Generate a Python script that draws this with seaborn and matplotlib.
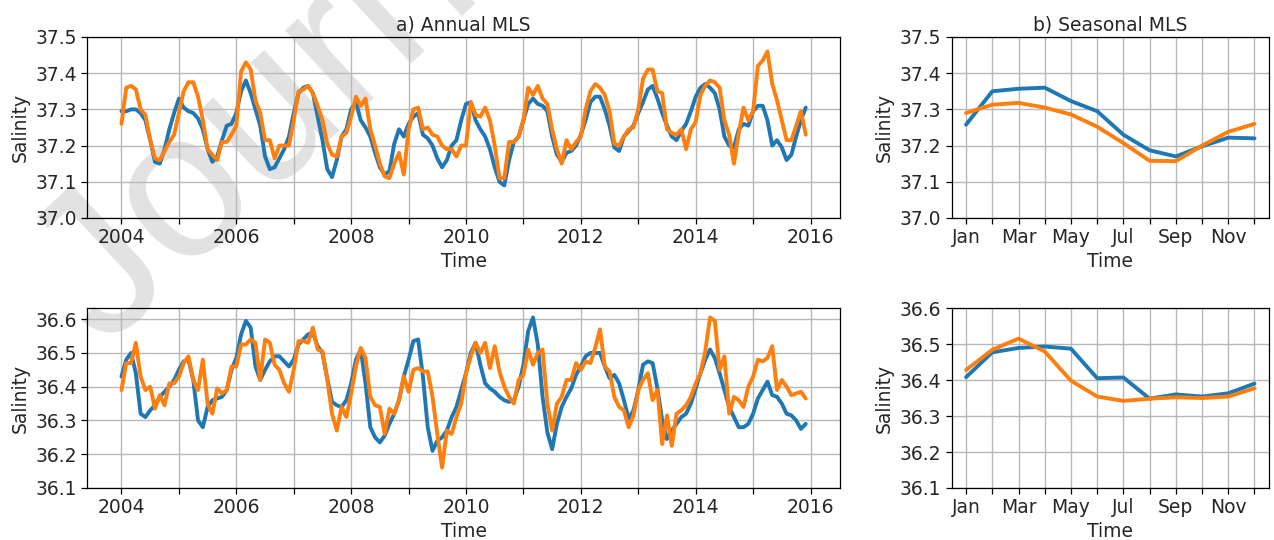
# salinidade da camada de mistura (MLS): série anual e ciclo sazonal

import numpy as np
import matplotlib
matplotlib.use("Agg")
import matplotlib.pyplot as plt
import seaborn as sns

# eixo de tempo: meses de jan/2004 a dez/2015
anos = [2004, 2016]
n_meses = 144

# painel a) superior - série 1 (azul) e série 2 (laranja)
mls_a1_azul = [
    37.295, 37.295, 37.30, 37.30, 37.29, 37.27, 37.215, 37.155, 37.15, 37.19, 37.245, 37.29,
    37.33, 37.305, 37.295, 37.29, 37.275, 37.245, 37.19, 37.155, 37.17, 37.215, 37.255, 37.26,
    37.29, 37.35, 37.38, 37.345, 37.30, 37.255, 37.17, 37.135, 37.14, 37.165, 37.19, 37.225,
    37.29, 37.345, 37.36, 37.365, 37.345, 37.28, 37.215, 37.135, 37.113, 37.16, 37.225, 37.245,
    37.30, 37.32, 37.27, 37.25, 37.225, 37.18, 37.14, 37.12, 37.13, 37.205, 37.245, 37.225,
    37.26, 37.28, 37.29, 37.23, 37.22, 37.20, 37.165, 37.14, 37.16, 37.20, 37.215, 37.27,
    37.315, 37.32, 37.27, 37.245, 37.225, 37.19, 37.14, 37.10, 37.09, 37.16, 37.21, 37.225,
    37.27, 37.315, 37.33, 37.315, 37.31, 37.295, 37.225, 37.175, 37.155, 37.18, 37.185, 37.20,
    37.23, 37.27, 37.32, 37.335, 37.335, 37.30, 37.255, 37.195, 37.185, 37.225, 37.24, 37.255,
    37.29, 37.32, 37.355, 37.365, 37.33, 37.29, 37.255, 37.225, 37.215, 37.24, 37.26, 37.295,
    37.335, 37.36, 37.37, 37.36, 37.345, 37.30, 37.225, 37.20, 37.195, 37.245, 37.26, 37.255,
    37.295, 37.31, 37.31, 37.27, 37.20, 37.215, 37.195, 37.16, 37.175, 37.225, 37.27, 37.305,
]
mls_a1_laranja = [
    37.26, 37.36, 37.365, 37.355, 37.30, 37.285, 37.215, 37.165, 37.16, 37.185, 37.21, 37.23,
    37.29, 37.35, 37.375, 37.375, 37.335, 37.27, 37.19, 37.175, 37.16, 37.21, 37.21, 37.23,
    37.255, 37.405, 37.43, 37.41, 37.325, 37.29, 37.215, 37.215, 37.165, 37.20, 37.20, 37.20,
    37.27, 37.35, 37.355, 37.365, 37.345, 37.31, 37.27, 37.205, 37.175, 37.17, 37.225, 37.235,
    37.28, 37.335, 37.31, 37.33, 37.245, 37.20, 37.15, 37.115, 37.11, 37.15, 37.18, 37.12,
    37.245, 37.30, 37.305, 37.245, 37.25, 37.23, 37.225, 37.20, 37.19, 37.19, 37.17, 37.20,
    37.20, 37.32, 37.285, 37.28, 37.305, 37.27, 37.20, 37.11, 37.11, 37.21, 37.21, 37.225,
    37.27, 37.36, 37.34, 37.365, 37.33, 37.315, 37.245, 37.19, 37.15, 37.215, 37.19, 37.21,
    37.225, 37.30, 37.35, 37.37, 37.36, 37.34, 37.295, 37.205, 37.20, 37.225, 37.245, 37.25,
    37.30, 37.385, 37.41, 37.41, 37.35, 37.345, 37.245, 37.235, 37.23, 37.245, 37.19, 37.245,
    37.265, 37.34, 37.365, 37.38, 37.375, 37.36, 37.27, 37.23, 37.15, 37.235, 37.305, 37.27,
    37.295, 37.42, 37.435, 37.46, 37.37, 37.325, 37.27, 37.215, 37.215, 37.255, 37.295, 37.23,
]

# painel inferior - série 1 (azul) e série 2 (laranja)
mls_a2_azul = [
    36.43, 36.48, 36.50, 36.44, 36.32, 36.31, 36.33, 36.345, 36.37, 36.385, 36.40, 36.42,
    36.45, 36.475, 36.48, 36.42, 36.30, 36.28, 36.34, 36.36, 36.365, 36.37, 36.39, 36.45,
    36.485, 36.555, 36.595, 36.575, 36.46, 36.42, 36.45, 36.475, 36.49, 36.49, 36.475, 36.46,
    36.48, 36.525, 36.54, 36.555, 36.56, 36.52, 36.50, 36.425, 36.355, 36.345, 36.34, 36.36,
    36.41, 36.48, 36.51, 36.41, 36.28, 36.25, 36.235, 36.255, 36.29, 36.32, 36.36, 36.43,
    36.48, 36.535, 36.54, 36.43, 36.28, 36.21, 36.24, 36.25, 36.27, 36.31, 36.34, 36.39,
    36.44, 36.50, 36.53, 36.465, 36.41, 36.395, 36.385, 36.37, 36.36, 36.355, 36.36, 36.40,
    36.465, 36.565, 36.605, 36.525, 36.37, 36.265, 36.215, 36.29, 36.34, 36.37, 36.395, 36.435,
    36.46, 36.49, 36.50, 36.50, 36.50, 36.46, 36.425, 36.435, 36.41, 36.36, 36.305, 36.33,
    36.39, 36.465, 36.475, 36.47, 36.395, 36.30, 36.245, 36.27, 36.29, 36.31, 36.32, 36.35,
    36.395, 36.44, 36.48, 36.51, 36.485, 36.44, 36.39, 36.34, 36.31, 36.28, 36.28, 36.29,
    36.32, 36.365, 36.39, 36.415, 36.375, 36.37, 36.35, 36.32, 36.315, 36.30, 36.275, 36.29,
]
mls_a2_laranja = [
    36.39, 36.47, 36.47, 36.53, 36.43, 36.39, 36.40, 36.335, 36.375, 36.345, 36.41, 36.41,
    36.43, 36.47, 36.49, 36.42, 36.39, 36.48, 36.35, 36.32, 36.395, 36.38, 36.39, 36.46,
    36.46, 36.525, 36.525, 36.54, 36.53, 36.42, 36.54, 36.53, 36.465, 36.45, 36.41, 36.385,
    36.45, 36.535, 36.535, 36.53, 36.575, 36.51, 36.505, 36.42, 36.32, 36.27, 36.34, 36.31,
    36.38, 36.46, 36.515, 36.485, 36.37, 36.345, 36.34, 36.26, 36.335, 36.32, 36.36, 36.43,
    36.385, 36.45, 36.455, 36.445, 36.445, 36.37, 36.26, 36.16, 36.27, 36.26, 36.31, 36.35,
    36.44, 36.49, 36.53, 36.50, 36.53, 36.455, 36.52, 36.445, 36.40, 36.37, 36.35, 36.42,
    36.435, 36.51, 36.465, 36.50, 36.51, 36.35, 36.27, 36.35, 36.37, 36.42, 36.42, 36.47,
    36.45, 36.475, 36.47, 36.515, 36.57, 36.46, 36.445, 36.37, 36.34, 36.33, 36.28, 36.315,
    36.39, 36.42, 36.44, 36.36, 36.39, 36.23, 36.315, 36.225, 36.32, 36.33, 36.345, 36.37,
    36.41, 36.44, 36.505, 36.605, 36.595, 36.45, 36.49, 36.32, 36.37, 36.36, 36.34, 36.40,
    36.43, 36.48, 36.475, 36.485, 36.52, 36.39, 36.42, 36.40, 36.375, 36.38, 36.385, 36.365,
]

# painel b) ciclo sazonal
meses = ["Jan", "Feb", "Mar", "Apr", "May", "Jun", "Jul", "Aug", "Sep", "Oct", "Nov", "Dec"]
saz1_azul = [37.258, 37.35, 37.357, 37.36, 37.323, 37.295, 37.23, 37.187, 37.17, 37.198, 37.222, 37.22]
saz1_laranja = [37.29, 37.313, 37.318, 37.305, 37.286, 37.252, 37.207, 37.158, 37.157, 37.20, 37.238, 37.26]
saz2_azul = [36.408, 36.477, 36.489, 36.493, 36.487, 36.405, 36.407, 36.348, 36.36, 36.354, 36.363, 36.39]
saz2_laranja = [36.428, 36.484, 36.515, 36.479, 36.398, 36.354, 36.342, 36.348, 36.352, 36.35, 36.354, 36.377]

azul = "#1f77b4"
laranja = "#ff7f0e"

sns.set_theme(style="ticks", rc={
    "axes.grid": True, "grid.color": "#b8b8b8", "grid.linewidth": 1.0,
    "axes.edgecolor": "black", "axes.linewidth": 0.9,
    "axes.facecolor": "none",
    "xtick.color": "black", "ytick.color": "black",
    "xtick.labelcolor": "#262626", "ytick.labelcolor": "#262626",
})
plt.rcParams["font.family"] = ["DejaVu Sans"]

fig = plt.figure(figsize=(12.74, 5.4), dpi=100)

# marca d'água do "Journal Pre-proof" (atrás dos eixos)
fig.text(0.0824, 0.352, "Journal Pre-proof", fontsize=150, rotation=43,
         rotation_mode="anchor", ha="left", va="baseline",
         family="Liberation Sans", color="#e2e2e2", zorder=-5)

ax1 = fig.add_axes([0.0685, 0.5963, 0.5908, 0.3352])
ax2 = fig.add_axes([0.0685, 0.0963, 0.5908, 0.3333])
ax3 = fig.add_axes([0.747, 0.5963, 0.249, 0.3352])
ax4 = fig.add_axes([0.747, 0.0963, 0.249, 0.3333])

tempo = anos[0] + np.arange(n_meses) / 12
lw = 2.8

sns.lineplot(x=tempo, y=mls_a1_azul, color=azul, lw=lw, ax=ax1)
sns.lineplot(x=tempo, y=mls_a1_laranja, color=laranja, lw=lw, ax=ax1)
sns.lineplot(x=tempo, y=mls_a2_azul, color=azul, lw=lw, ax=ax2)
sns.lineplot(x=tempo, y=mls_a2_laranja, color=laranja, lw=lw, ax=ax2)

x_mes = np.arange(1, 13)
sns.lineplot(x=x_mes, y=saz1_azul, color=azul, lw=lw, ax=ax3)
sns.lineplot(x=x_mes, y=saz1_laranja, color=laranja, lw=lw, ax=ax3)
sns.lineplot(x=x_mes, y=saz2_azul, color=azul, lw=lw, ax=ax4)
sns.lineplot(x=x_mes, y=saz2_laranja, color=laranja, lw=lw, ax=ax4)

fs = 13.5
anos_ticks = np.arange(anos[0], anos[1] + 1)
for ax in (ax1, ax2):
    ax.set_xticks(anos_ticks)
    ax.set_xticklabels([str(a) if a % 2 == 0 else "" for a in anos_ticks])
for ax in (ax3, ax4):
    ax.set_xticks(x_mes)
    ax.set_xticklabels([m if i % 2 == 0 else "" for i, m in enumerate(meses)])

ax1.set_ylim(37.0, 37.5)
ax3.set_ylim(37.0, 37.5)
ax2.set_ylim(36.1, 36.633)
ax4.set_ylim(36.1, 36.6)
for ax in (ax1, ax3):
    ax.set_yticks(np.arange(37.0, 37.51, 0.1))
for ax in (ax2, ax4):
    ax.set_yticks(np.arange(36.1, 36.61, 0.1))

for ax in (ax1, ax2, ax3, ax4):
    ax.yaxis.set_major_formatter(matplotlib.ticker.FormatStrFormatter("%.1f"))
    ax.tick_params(labelsize=fs, length=4, width=0.9)
    ax.set_xlabel("Time", fontsize=fs, labelpad=3, color="#262626")
    ax.set_ylabel("Salinity", fontsize=fs, labelpad=4, color="#262626")
    for s in ax.spines.values():
        s.set_visible(True)

ax1.set_title("a) Annual MLS", fontsize=fs, pad=5, color="#262626")
ax3.set_title("b) Seasonal MLS", fontsize=fs, pad=5, color="#262626")

fig.savefig("out.png", dpi=100)
